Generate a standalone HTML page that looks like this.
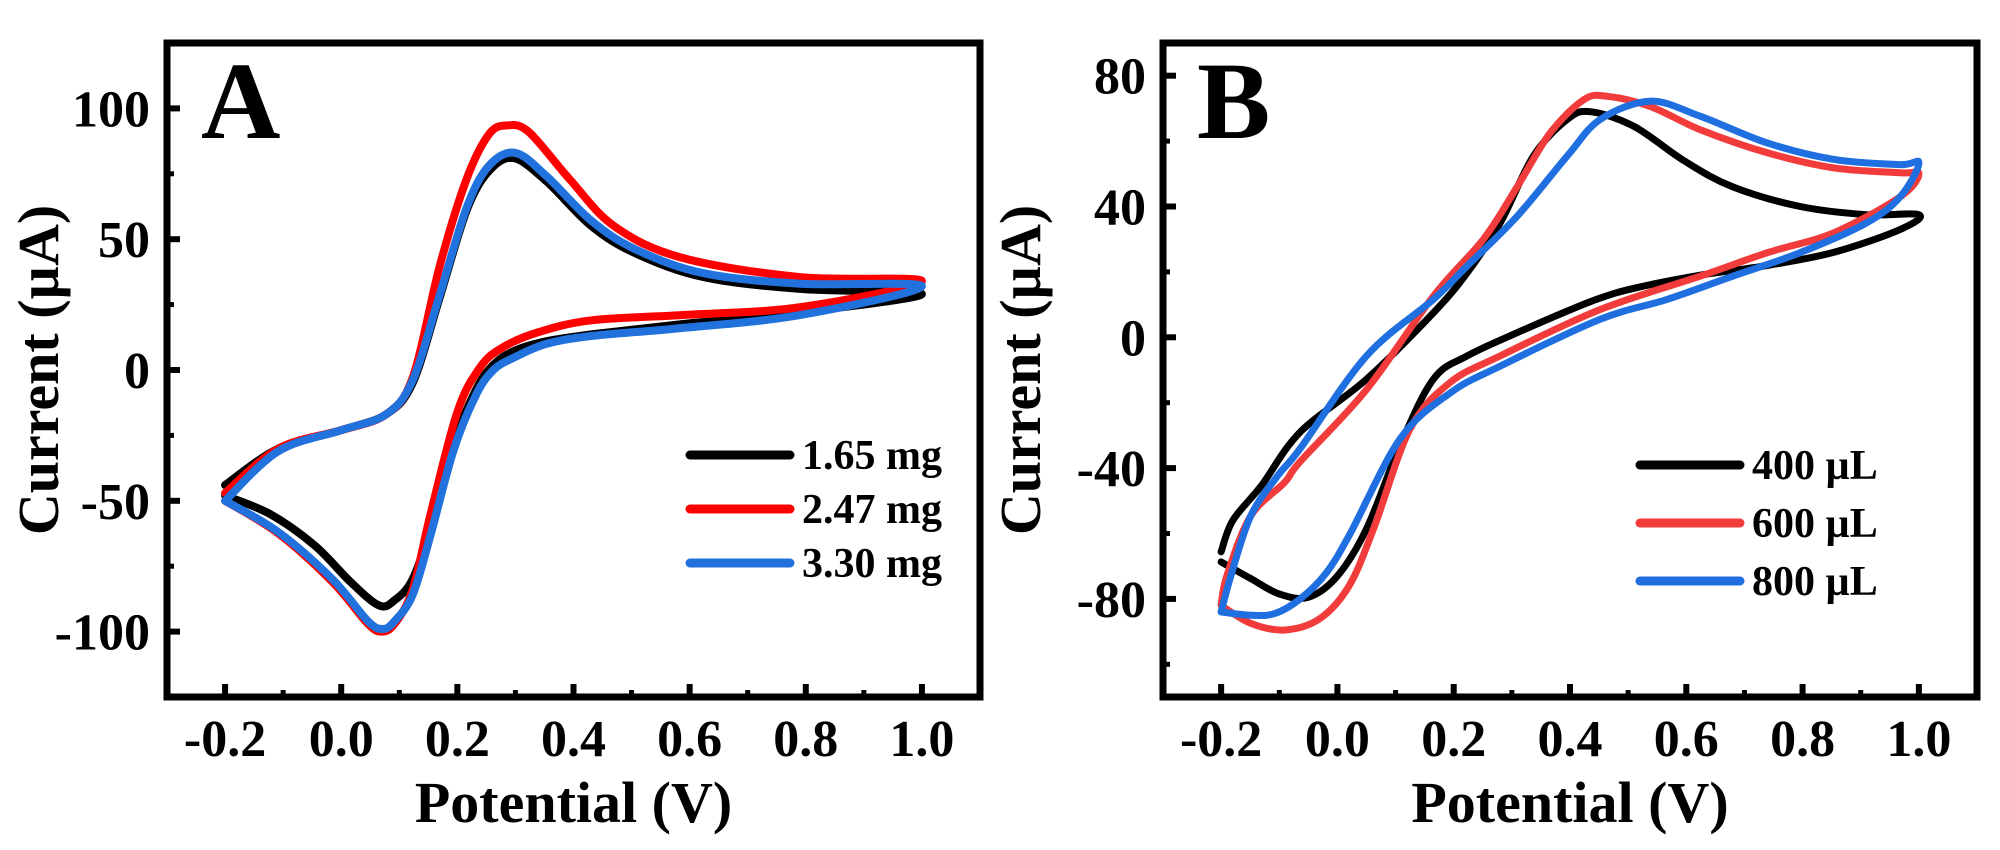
<!DOCTYPE html>
<html><head><meta charset="utf-8"><style>
html,body{margin:0;padding:0;background:#fff;}
svg{display:block;}
text{font-family:"Liberation Serif","DejaVu Serif",serif;font-weight:bold;fill:#000;}
</style></head><body>
<svg id="fig" width="2000" height="850" viewBox="0 0 2000 850" xmlns="http://www.w3.org/2000/svg"></svg>
<script>
// ---- Panel A data ----
const aBlackV=[-0.2,-0.108,0.0,0.077,0.123,0.17,0.216,0.254,0.297,0.354,0.431,0.508,0.624,0.79,1.0,0.79,0.585,0.431,0.354,0.3,0.262,0.231,0.193,0.154,0.123,0.092,0.065,0.016,-0.046,-0.123,-0.2];
const aBlackI=[-44,-30,-23,-17,-5,28,61,76,81,72,55,44.5,35.5,31,29,22,17.5,13.6,11,7.5,2,-8,-29,-60,-80,-88,-90,-81,-67,-55,-48];
const aRedV=[-0.2,-0.108,0.0,0.077,0.123,0.17,0.216,0.254,0.285,0.323,0.393,0.47,0.585,0.79,1.0,0.79,0.585,0.431,0.34,0.277,0.239,0.2,0.154,0.123,0.092,0.07,0.046,-0.015,-0.108,-0.2];
const aRedI=[-47,-30,-23,-17,-3,40,73,90,93.5,91,73,55,43,35.5,34,24,21,19,14.5,8.5,1,-16,-55,-84,-97,-100,-97,-81,-62.5,-50];
const aBlueV=[-0.2,-0.108,0.0,0.077,0.123,0.17,0.216,0.254,0.3,0.354,0.431,0.508,0.624,0.79,1.0,0.79,0.585,0.431,0.354,0.3,0.262,0.231,0.193,0.154,0.123,0.092,0.072,0.046,-0.015,-0.108,-0.2];
const aBlueI=[-50,-31,-23,-17,-4,29,62,78,83,74,57,46,37,33,32,21,16,13,10,5,0,-10,-31,-63,-86,-96,-99,-96,-80,-62,-50];
const aXTicks=[-0.2,0.0,0.2,0.4,0.6,0.8,1.0];
const aXTickLabels=["-0.2","0.0","0.2","0.4","0.6","0.8","1.0"];
const aYTicks=[-100,-50,0,50,100];
const aYTickLabels=["-100","-50","0","50","100"];
const aLegend=["1.65 mg","2.47 mg","3.30 mg"];
// ---- Panel B data ----
const bBlackV=[-0.2,-0.18,-0.131,-0.064,0.05,0.165,0.223,0.28,0.337,0.395,0.435,0.51,0.596,0.68,0.796,0.91,1.0,0.968,0.854,0.74,0.624,0.51,0.452,0.395,0.309,0.223,0.165,0.108,0.05,0.0,-0.05,-0.1,-0.149,-0.2];
const bBlackI=[-65.6,-56,-45.4,-29,-12.8,7.5,19.7,35,55.4,66.6,69,64.5,54,46,40,37.5,37.5,33,26,22,19,15,12,8,1.4,-5.7,-12.8,-33,-58.6,-73,-79.5,-78.5,-73.8,-68.7];
const bRedV=[-0.2,-0.19,-0.149,-0.091,-0.064,0.05,0.165,0.251,0.309,0.366,0.424,0.464,0.538,0.624,0.74,0.854,0.968,1.0,0.968,0.854,0.74,0.624,0.452,0.28,0.194,0.125,0.062,0.02,-0.03,-0.09,-0.149,-0.2];
const bRedI=[-82,-72.8,-54.6,-44.4,-38,-16,12.6,30,46,62.5,72.7,73.7,70.6,63.5,56.4,51.8,50.3,50,43,32,25.9,18.7,8.5,-5.7,-13.8,-28,-58.6,-76,-86,-89.5,-87.5,-82];
const bBlueV=[-0.2,-0.183,-0.149,-0.103,-0.064,0.05,0.165,0.223,0.309,0.395,0.452,0.538,0.624,0.74,0.854,0.968,1.0,0.968,0.91,0.796,0.68,0.567,0.452,0.28,0.194,0.108,0.022,-0.019,-0.064,-0.108,-0.149,-0.2];
const bBlueI=[-84,-72.8,-54.6,-42.4,-34,-5.7,11.6,21.8,37,55.4,66.6,72.2,67.6,59.4,54.4,52.8,53.3,43,35,25.9,18.7,11.6,5.5,-8.8,-17,-31,-60,-72,-80,-84.5,-85,-84];
const bXTicks=[-0.2,0.0,0.2,0.4,0.6,0.8,1.0];
const bXTickLabels=["-0.2","0.0","0.2","0.4","0.6","0.8","1.0"];
const bYTicks=[-80,-40,0,40,80];
const bYTickLabels=["-80","-40","0","40","80"];
const bLegend=["400 µL","600 µL","800 µL"];

const NS="http://www.w3.org/2000/svg";
const svg=document.getElementById('fig');
function mk(tag,attrs,parent){const e=document.createElementNS(NS,tag);for(const k in attrs)e.setAttribute(k,attrs[k]);(parent||svg).appendChild(e);return e;}
function smoothPath(pts){
  let d="M"+pts[0][0].toFixed(1)+","+pts[0][1].toFixed(1);
  for(let i=0;i<pts.length-1;i++){
    const p0=pts[Math.max(0,i-1)],p1=pts[i],p2=pts[i+1],p3=pts[Math.min(pts.length-1,i+2)];
    const c1=[p1[0]+(p2[0]-p0[0])/6,p1[1]+(p2[1]-p0[1])/6];
    const c2=[p2[0]-(p3[0]-p1[0])/6,p2[1]-(p3[1]-p1[1])/6];
    d+=" C"+c1[0].toFixed(1)+","+c1[1].toFixed(1)+" "+c2[0].toFixed(1)+","+c2[1].toFixed(1)+" "+p2[0].toFixed(1)+","+p2[1].toFixed(1);
  }
  return d;
}
function panel(cfg){
  const g=mk('g',{});
  
  
  const L=cfg.left,R=cfg.right,T=43,B=697;
  const xs=v=>L+(v-(-0.3))/(1.4)*(R-L);
  const ys=i=>T+(cfg.ymax-i)/(cfg.ymax-cfg.ymin)*(B-T);
  cfg.series.forEach((s,k)=>{
    const pts=s.v.map((v,j)=>[xs(v),ys(s.i[j])]);
    const p=mk('path',{d:smoothPath(pts),fill:'none',stroke:s.color,'stroke-width':cfg.sw,'stroke-linejoin':'round','stroke-linecap':'round'},g);
    
    
  });
  const fr=mk('rect',{x:L,y:T,width:R-L,height:B-T,fill:'none',stroke:'#000','stroke-width':7},g);
  
  
  cfg.xt.forEach((t,k)=>{
    const x=xs(t);
    mk('line',{x1:x,y1:B,x2:x,y2:B-13,stroke:'#000','stroke-width':6},g);
    const m=xs(t+0.1);
    if(m<R-5) mk('line',{x1:m,y1:B,x2:m,y2:B-7,stroke:'#000','stroke-width':5},g);
    const tx=mk('text',{x:x,y:756,'text-anchor':'middle','font-size':52},g);
    tx.textContent=cfg.xl[k];
    
    
  });
  cfg.yt.forEach((t,k)=>{
    const y=ys(t);
    mk('line',{x1:L,y1:y,x2:L+13,y2:y,stroke:'#000','stroke-width':6},g);
    const tx=mk('text',{x:L-17,y:y+18,'text-anchor':'end','font-size':52},g);
    tx.textContent=cfg.yl[k];
    
    
  });
  const step=cfg.yt[1]-cfg.yt[0];
  for(let v=cfg.yt[0]-step/2;v<cfg.ymax;v+=step){
    if(v<=cfg.ymin) continue;
    const y=ys(v);
    mk('line',{x1:L,y1:y,x2:L+7,y2:y,stroke:'#000','stroke-width':5},g);
  }
  const xt=mk('text',{x:(L+R)/2,y:822,'text-anchor':'middle','font-size':58},g);
  xt.textContent='Potential (V)';
  
  
  const ytx=cfg.titleX;
  const yt=mk('text',{x:ytx,y:370,'text-anchor':'middle','font-size':58,transform:'rotate(-90 '+ytx+' 370)'},g);
  yt.textContent='Current (µA)';
  
  
  const pl=mk('text',{x:L+34,y:138,'font-size':110},g);
  pl.textContent=cfg.letter;
  
  
  cfg.legend.forEach((lab,k)=>{
    const y=cfg.legY+k*cfg.legGap;
    const ln=mk('line',{x1:cfg.legX,y1:y,x2:cfg.legX+100,y2:y,stroke:cfg.series[k].color,'stroke-width':9,'stroke-linecap':'round'},g);
    
    
    const t=mk('text',{x:cfg.legX+112,y:y+14,'font-size':42},g);
    t.textContent=lab;
    
    
  });
}
panel({name:'panel-a',letter:'A',left:167,right:980,ymin:-125,ymax:125,sw:8,titleX:58,
  xt:aXTicks,xl:aXTickLabels,yt:aYTicks,yl:aYTickLabels,legend:aLegend,legX:690,legY:455,legGap:54,
  series:[{id:'series-1-65mg',v:aBlackV,i:aBlackI,color:'#000000'},{id:'series-2-47mg',v:aRedV,i:aRedI,color:'#ff0000'},{id:'series-3-30mg',v:aBlueV,i:aBlueI,color:'#2272dd'}]});
panel({name:'panel-b',letter:'B',left:1163,right:1977,ymin:-110,ymax:90,sw:7,titleX:1040,
  xt:bXTicks,xl:bXTickLabels,yt:bYTicks,yl:bYTickLabels,legend:bLegend,legX:1640,legY:465,legGap:58,
  series:[{id:'series-400ul',v:bBlackV,i:bBlackI,color:'#000000'},{id:'series-600ul',v:bRedV,i:bRedI,color:'#f23c3c'},{id:'series-800ul',v:bBlueV,i:bBlueI,color:'#1f6fe0'}]});
</script>
</body></html>
